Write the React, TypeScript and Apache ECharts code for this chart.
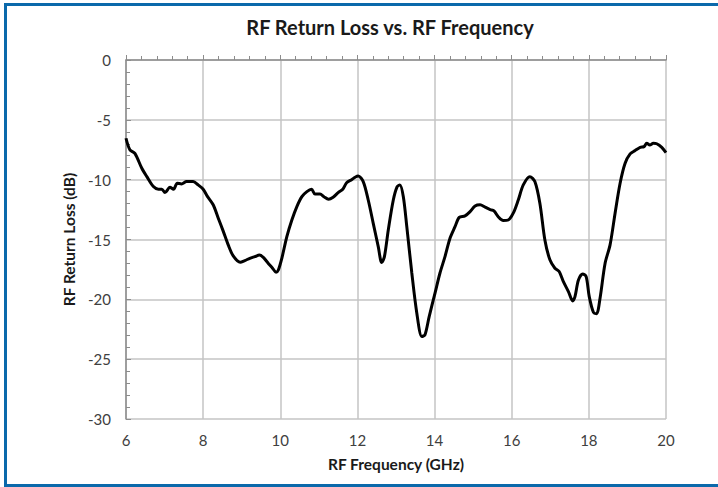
import React, { useEffect, useRef } from "react";
import * as echarts from "echarts";

const freqGHz = [
  6.0, 6.1, 6.23, 6.41, 6.54, 6.71, 6.84, 6.93, 7.01, 7.14, 7.23, 7.33, 7.44, 7.57, 7.74, 7.87,
  8.0, 8.11, 8.26, 8.39, 8.52, 8.65, 8.78, 8.96, 9.08, 9.21, 9.34, 9.46, 9.56, 9.69, 9.8, 9.89,
  9.95, 10.04, 10.17, 10.3, 10.43, 10.56, 10.69, 10.81, 10.9, 11.03, 11.13, 11.25, 11.37, 11.5,
  11.62, 11.72, 11.85, 11.94, 12.02, 12.15, 12.28, 12.41, 12.54, 12.63, 12.7, 12.8, 12.93, 13.03,
  13.1, 13.19, 13.28, 13.41, 13.54, 13.67, 13.75, 13.86, 14.01, 14.14, 14.27, 14.4, 14.53, 14.64,
  14.79, 14.92, 15.05, 15.18, 15.31, 15.44, 15.54, 15.65, 15.78, 15.91, 16.04, 16.17, 16.3, 16.47,
  16.6, 16.73, 16.86, 16.99, 17.12, 17.23, 17.34, 17.47, 17.58, 17.64, 17.73, 17.84, 17.93, 18.01,
  18.12, 18.2, 18.29, 18.42, 18.55, 18.68, 18.81, 18.94, 19.07, 19.2, 19.33, 19.43, 19.5, 19.58,
  19.67, 19.76, 19.89, 20.0,
];

const returnLossDb = [
  -6.54, -7.5, -7.8, -9.05, -9.75, -10.58, -10.8, -10.8, -11.08, -10.64, -10.8, -10.3, -10.36, -10.16, -10.16, -10.44,
  -10.8, -11.4, -12.1, -13.2, -14.3, -15.45, -16.37, -16.9, -16.76, -16.57, -16.43, -16.3, -16.5, -17.0, -17.4, -17.74,
  -17.55, -16.57, -14.76, -13.37, -12.25, -11.42, -11.0, -10.8, -11.2, -11.2, -11.42, -11.64, -11.47, -11.08,
  -10.8, -10.25, -10.0, -9.8, -9.7, -10.16, -11.7, -13.65, -15.6, -16.93, -16.43, -14.2, -11.7, -10.58,
  -10.44, -11.42, -13.93, -17.8, -21.16, -23.1, -22.97, -21.44, -19.5, -17.8, -16.43, -14.9, -13.93, -13.15,
  -13.03, -12.67, -12.2, -12.1, -12.3, -12.5, -12.6, -13.1, -13.42, -13.37, -12.8, -11.7, -10.44, -9.75,
  -10.16, -11.97, -15.04, -16.7, -17.4, -17.68, -18.52, -19.35, -20.13, -19.77, -18.38, -17.88, -18.1, -19.77,
  -21.1, -21.2, -19.9, -17.0, -15.45, -12.8, -10.3, -8.63, -7.85, -7.57, -7.3, -7.24, -6.96, -7.1,
  -6.96, -7.0, -7.3, -7.74,
];

const xTicks = { min: 6, max: 20, interval: 2 };
const yTicks = { min: -30, max: 0, interval: 5 };

const FONT = "Lato, 'Open Sans', sans-serif";

export default function App() {
  const ref = useRef<HTMLDivElement>(null);
  useEffect(() => {
    if (!ref.current) return;
    const chart = echarts.init(ref.current, null, { renderer: "svg" });
    const data = freqGHz.map((f, i) => [f, returnLossDb[i]]);
    chart.setOption({
      animation: false,
      backgroundColor: "#ffffff",
      title: {
        text: "RF Return Loss vs. RF Frequency",
        left: 385,
        top: 12,
        textAlign: "center",
        textStyle: { fontFamily: FONT, fontSize: 20, fontWeight: "bold", color: "#1a1a1a" },
      },
      grid: { left: 126, right: 52, top: 60, bottom: 68 },
      xAxis: {
        type: "value",
        min: xTicks.min,
        max: xTicks.max,
        interval: xTicks.interval,
        name: "RF Frequency (GHz)",
        nameLocation: "middle",
        nameGap: 37,
        nameTextStyle: { fontFamily: FONT, fontSize: 15.5, fontWeight: "bold", color: "#1a1a1a" },
        axisLine: { show: true, lineStyle: { color: "#8c8c8c", width: 1.5 } },
        axisTick: { show: true, inside: true, length: 5, lineStyle: { color: "#8c8c8c" } },
        minorTick: { show: true, splitNumber: 5, length: 4, lineStyle: { color: "#8c8c8c" } },
        splitLine: { show: true, lineStyle: { color: "#c4c4c4", width: 1.5 } },
        axisLabel: { margin: 13, fontFamily: FONT, fontSize: 15, color: "#404040" },
      },
      yAxis: {
        type: "value",
        min: yTicks.min,
        max: yTicks.max,
        interval: yTicks.interval,
        name: "RF Return Loss (dB)",
        nameLocation: "middle",
        nameGap: 49,
        nameTextStyle: { fontFamily: FONT, fontSize: 15.5, fontWeight: "bold", color: "#1a1a1a" },
        axisLine: { show: true, lineStyle: { color: "#8c8c8c", width: 1.5 } },
        axisTick: { show: true, inside: true, length: 5, lineStyle: { color: "#8c8c8c" } },
        minorTick: { show: true, splitNumber: 5, length: 4, lineStyle: { color: "#8c8c8c" } },
        splitLine: { show: true, lineStyle: { color: "#c4c4c4", width: 1.5 } },
        axisLabel: { margin: 15, fontFamily: FONT, fontSize: 15, color: "#404040" },
      },
      series: [
        {
          type: "line",
          data,
          smooth: 0.3,
          showSymbol: false,
          symbol: "none",
          lineStyle: { color: "#000000", width: 3 },
        },
      ],
      graphic: [
        { type: "rect", shape: { x: 4, y: 3, width: 714, height: 3 }, style: { fill: "#0b69ab" } },
        { type: "rect", shape: { x: 4, y: 3, width: 3, height: 484 }, style: { fill: "#0b69ab" } },
        { type: "rect", shape: { x: 4, y: 484, width: 714, height: 3 }, style: { fill: "#0b69ab" } },
      ],
    });
    return () => chart.dispose();
  }, []);
  return (
    <div
      ref={ref}
      style={{ position: "absolute", left: 0, top: 0, width: 718, height: 487 }}
    />
  );
}
